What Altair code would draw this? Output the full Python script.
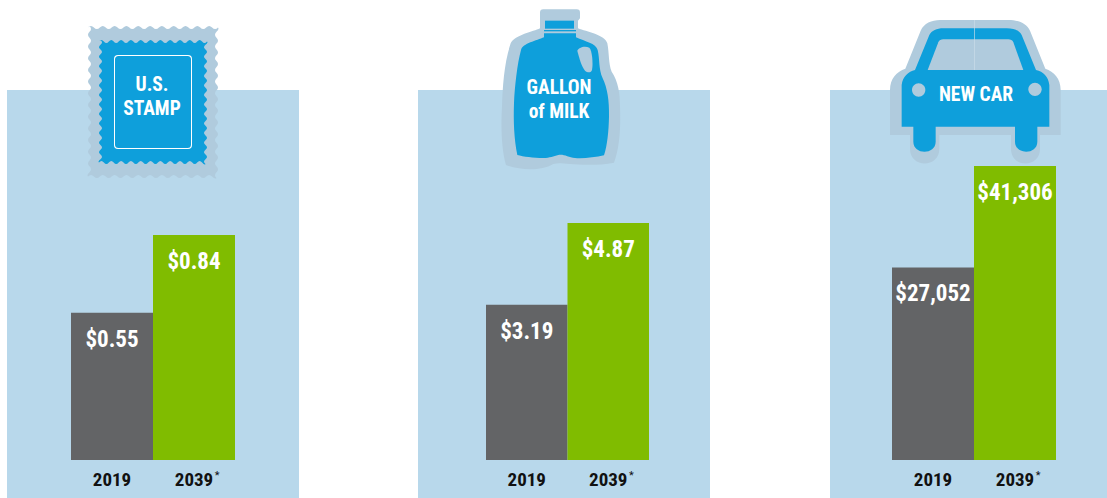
import re
import altair as alt
import pandas as pd

# Chart values
years = ["2019", "2039"]
stamp_prices = [0.55, 0.84]
milk_prices = [3.19, 4.87]
car_prices = [27052, 41306]

PANEL_BLUE = "#b8d8eb"
HALO = "#b0cbdd"
ICON_BLUE = "#0e9fdb"
GRAY = "#636466"
GREEN = "#80bc00"
FONT = "'Roboto Condensed', 'Open Sans Condensed', 'DejaVu Sans Condensed', Roboto, sans-serif"
R = 50  # half-size of the symbol box, in pixels


def to_symbol(path, ox, oy, zoom, cx, cy):
    """Rescale an absolute SVG path so that it suits a Vega symbol centred on (cx, cy)."""
    tokens = re.findall(r"[A-Za-z]|-?\d+\.?\d*", path)
    out, is_x = [], True
    for t in tokens:
        if t.isalpha():
            out.append(t)
            is_x = True
        else:
            v = float(t) / zoom + (ox if is_x else oy)
            v = (v - (cx if is_x else cy)) / R
            out.append(f"{v:.4f}")
            is_x = not is_x
    return " ".join(out)


def perforated(left, top, right, bottom, n_x, n_y, depth):
    """Rectangle whose edges follow a gentle wave, like stamp perforations."""
    px, py = (right - left) / n_x, (bottom - top) / n_y
    h = depth / 2
    t, r, b, l = top + h, right - h, bottom - h, left + h
    d = [f"M {left:.2f} {t:.2f}"]
    for i in range(n_x):
        x = left + i * px
        d.append(f"Q {x + px * .25:.2f} {t - depth:.2f} {x + px * .5:.2f} {t:.2f} Q {x + px * .75:.2f} {t + depth:.2f} {x + px:.2f} {t:.2f}")
    for i in range(n_y):
        y = top + i * py
        d.append(f"Q {r + depth:.2f} {y + py * .25:.2f} {r:.2f} {y + py * .5:.2f} Q {r - depth:.2f} {y + py * .75:.2f} {r:.2f} {y + py:.2f}")
    for i in range(n_x):
        x = right - i * px
        d.append(f"Q {x - px * .25:.2f} {b + depth:.2f} {x - px * .5:.2f} {b:.2f} Q {x - px * .75:.2f} {b - depth:.2f} {x - px:.2f} {b:.2f}")
    for i in range(n_y):
        y = bottom - i * py
        d.append(f"Q {l - depth:.2f} {y - py * .25:.2f} {l:.2f} {y - py * .5:.2f} Q {l + depth:.2f} {y - py * .75:.2f} {l:.2f} {y - py:.2f}")
    d.append("Z")
    return " ".join(d)


def rounded_rect(l, t, r, b, c):
    return (f"M {l + c} {t} L {r - c} {t} Q {r} {t} {r} {t + c} L {r} {b - c} Q {r} {b} {r - c} {b} "
            f"L {l + c} {b} Q {l} {b} {l} {b - c} L {l} {t + c} Q {l} {t} {l + c} {t} Z")


def circle(cx, cy, r):
    k = r * 0.5523
    return (f"M {cx - r} {cy} C {cx - r} {cy - k} {cx - k} {cy - r} {cx} {cy - r} "
            f"C {cx + k} {cy - r} {cx + r} {cy - k} {cx + r} {cy} "
            f"C {cx + r} {cy + k} {cx + k} {cy + r} {cx} {cy + r} "
            f"C {cx - k} {cy + r} {cx - r} {cy + k} {cx - r} {cy} Z")


# Icon outlines, drawn in a 3x grid
MILK_HALO = ("M 150 38 Q 150 28 160 28 L 260 28 Q 270 28 270 38 L 270 55 L 264 62 L 264 85 "
             "C 290 95 345 105 352 130 C 358 160 355 190 365 215 C 385 245 390 280 390 320 "
             "C 392 380 390 440 372 488 C 330 497 270 495 240 492 C 215 490 205 488 190 492 "
             "C 150 515 90 510 48 495 C 35 450 32 380 36 320 C 38 260 42 190 62 130 "
             "C 75 105 130 95 150 85 L 150 62 L 150 55 Z")
MILK_BODY = ("M 162 100 L 258 100 L 258 112 C 285 125 318 130 323 150 C 330 180 325 205 338 235 "
             "C 352 265 358 300 357 350 C 356 395 352 435 342 466 C 315 472 280 476 255 474 "
             "C 235 472 222 462 205 465 C 190 468 180 474 160 474 C 130 474 100 470 82 465 "
             "C 72 420 70 360 72 310 C 74 260 82 190 93 150 C 98 130 140 122 162 112 Z")
MILK_CAP = "M 165 62 L 252 62 L 252 86 L 165 86 Z"
MILK_RING = "M 162 90 L 258 90 L 258 94 L 162 94 Z"
MILK_HANDLE = ("M 262 152 C 265 142 285 136 298 143 C 306 150 310 190 306 210 C 303 220 292 218 285 212 "
               "C 275 200 268 175 262 152 Z")

CAR_HALO = ("M 30 375 L 30 240 C 30 205 50 185 76 176 L 122 62 C 132 40 155 30 180 30 L 385 30 "
            "C 415 30 440 40 450 62 L 496 176 C 522 185 542 205 542 240 L 542 375 L 480 375 L 480 416 "
            "C 480 475 393 475 393 416 L 393 375 L 178 375 L 178 416 C 178 475 90 475 90 416 L 90 375 Z")
CAR_BODY = ("M 65 350 L 65 225 C 68 200 85 185 105 180 L 148 75 C 155 62 170 55 190 55 L 380 55 "
            "C 405 55 418 62 425 75 L 468 180 C 490 185 505 200 508 225 L 508 350 L 472 350 L 472 395 "
            "C 472 435 405 435 405 395 L 405 350 L 167 350 L 167 395 C 167 435 100 435 100 395 L 100 350 Z")
CAR_WINDOW = "M 143 180 L 175 97 C 178 90 183 88 190 88 L 385 88 C 392 88 397 90 400 97 L 430 180 Z"
CAR_LINE = "M 282.5 30 L 284.5 30 L 284.5 180 L 282.5 180 Z"


def shape_layer(path, colour, cx, cy, panel_left):
    return (
        alt.Chart(pd.DataFrame({"k": [0]}))
        .mark_point(shape=path, filled=True, fill=colour, opacity=1, strokeWidth=0)
        .encode(x=alt.value(cx - panel_left), y=alt.value(cy), size=alt.value((2 * R) ** 2))
    )


def caption(lines, x, ys):
    frame = pd.DataFrame({"line": lines, "py": ys})
    return (
        alt.Chart(frame)
        .mark_text(font=FONT, fontWeight="bold", fontSize=19.5, color="white", baseline="middle", align="center", dy=1)
        .encode(x=alt.value(x), y=alt.Y("py:Q", scale=None), text="line:N")
    )


def panel(values, fmt, top_px, x_range, width, backdrop_width, icon_layers):
    top = max(values)
    unit = top / top_px
    y_scale = alt.Scale(domain=[-38 * unit, 460 * unit], range=[498, 0], nice=False, zero=False)
    x_scale = alt.Scale(domain=years, range=x_range, paddingInner=0, paddingOuter=0)
    frame = pd.DataFrame({"year": years, "price": values})
    base = alt.Chart(frame)

    backdrop = (
        alt.Chart(pd.DataFrame({"k": [0]}))
        .mark_rect(fill=PANEL_BLUE)
        .encode(x=alt.value(0), x2=alt.value(backdrop_width), y=alt.value(90), y2=alt.value(498))
    )
    bars = base.mark_bar(stroke=None).encode(
        x=alt.X("year:N", scale=x_scale, axis=None),
        y=alt.Y("price:Q", scale=y_scale, axis=None),
        y2=alt.datum(0),
        color=alt.Color("year:N", scale=alt.Scale(domain=years, range=[GRAY, GREEN]), legend=None),
    )
    price_labels = base.mark_text(
        font=FONT, fontSize=23, fontWeight="bold", color="white", baseline="middle", align="center", dy=27
    ).encode(
        x=alt.X("year:N", scale=x_scale, axis=None),
        y=alt.Y("price:Q", scale=y_scale, axis=None),
        text=alt.Text("price:Q", format=fmt),
    )
    year_labels = base.mark_text(
        font=FONT, fontWeight="bold", fontSize=19, color="#111111", baseline="middle", align="center"
    ).encode(x=alt.X("year:N", scale=x_scale, axis=None), y=alt.value(480), text="year:N")
    footnote = (
        alt.Chart(pd.DataFrame({"year": years[1:], "mark": ["*"]}))
        .mark_text(font=FONT, fontSize=11, color="#111111", baseline="middle", align="center", dx=23)
        .encode(x=alt.X("year:N", scale=x_scale, axis=None), y=alt.value(476), text="mark:N")
    )
    return alt.layer(backdrop, *icon_layers, bars, price_labels, year_labels, footnote).resolve_scale(
        y="shared", x="shared"
    ).properties(width=width, height=498)


# U.S. stamp icon
stamp_x, stamp_y, stamp_left = 153, 102, 7
stamp_icon = [
    shape_layer(to_symbol(perforated(88, 26, 218, 178, 11, 13, 3), 0, 0, 1, stamp_x, stamp_y), HALO, stamp_x, stamp_y, stamp_left),
    shape_layer(to_symbol(perforated(99, 40, 207, 164, 11, 13, 3), 0, 0, 1, stamp_x, stamp_y), ICON_BLUE, stamp_x, stamp_y, stamp_left),
    shape_layer(to_symbol(rounded_rect(114, 55, 192, 149, 4), 0, 0, 1, stamp_x, stamp_y), "white", stamp_x, stamp_y, stamp_left),
    shape_layer(to_symbol(rounded_rect(115, 56, 191, 148, 3.5), 0, 0, 1, stamp_x, stamp_y), ICON_BLUE, stamp_x, stamp_y, stamp_left),
    caption(["U.S.", "STAMP"], stamp_x - stamp_left - 1, [84, 108]),
]

# Gallon of milk icon
milk_x, milk_y, milk_left = 560, 85, 418
milk_icon = [
    shape_layer(to_symbol(p, 490, 0, 3, milk_x, milk_y), c, milk_x, milk_y, milk_left)
    for p, c in [(MILK_HALO, HALO), (MILK_BODY, ICON_BLUE), (MILK_CAP, ICON_BLUE), (MILK_RING, ICON_BLUE), (MILK_HANDLE, HALO)]
] + [caption(["GALLON", "of MILK"], 559 - milk_left, [87, 111])]

# New car icon
car_x, car_y, car_left = 975, 90, 830
car_icon = [
    shape_layer(to_symbol(p, 880, 10, 3, car_x, car_y), c, car_x, car_y, car_left)
    for p, c in [
        (CAR_HALO, HALO),
        (CAR_BODY, ICON_BLUE),
        (CAR_WINDOW, HALO),
        (CAR_LINE, "#cbdde9"),
        (circle(116, 240, 20), HALO),
        (circle(465, 238, 20), HALO),
    ]
] + [caption(["NEW CAR"], 976 - car_left, [94])]

chart = (
    alt.hconcat(
        panel(stamp_prices, "$.2f", 225, [64, 228], 292, 292, stamp_icon),
        panel(milk_prices, "$.2f", 237, [68, 231], 293, 292, milk_icon),
        panel(car_prices, "$,.0f", 294, [62, 226], 277, 277, car_icon),
        spacing=119,
    )
    .resolve_scale(x="independent", y="independent", color="independent")
    .properties(padding={"left": 7, "top": 0, "right": 0, "bottom": 0}, background="white")
    .configure_view(stroke=None)
)

chart.save("out.html", embed_options={"renderer": "svg", "actions": False})
